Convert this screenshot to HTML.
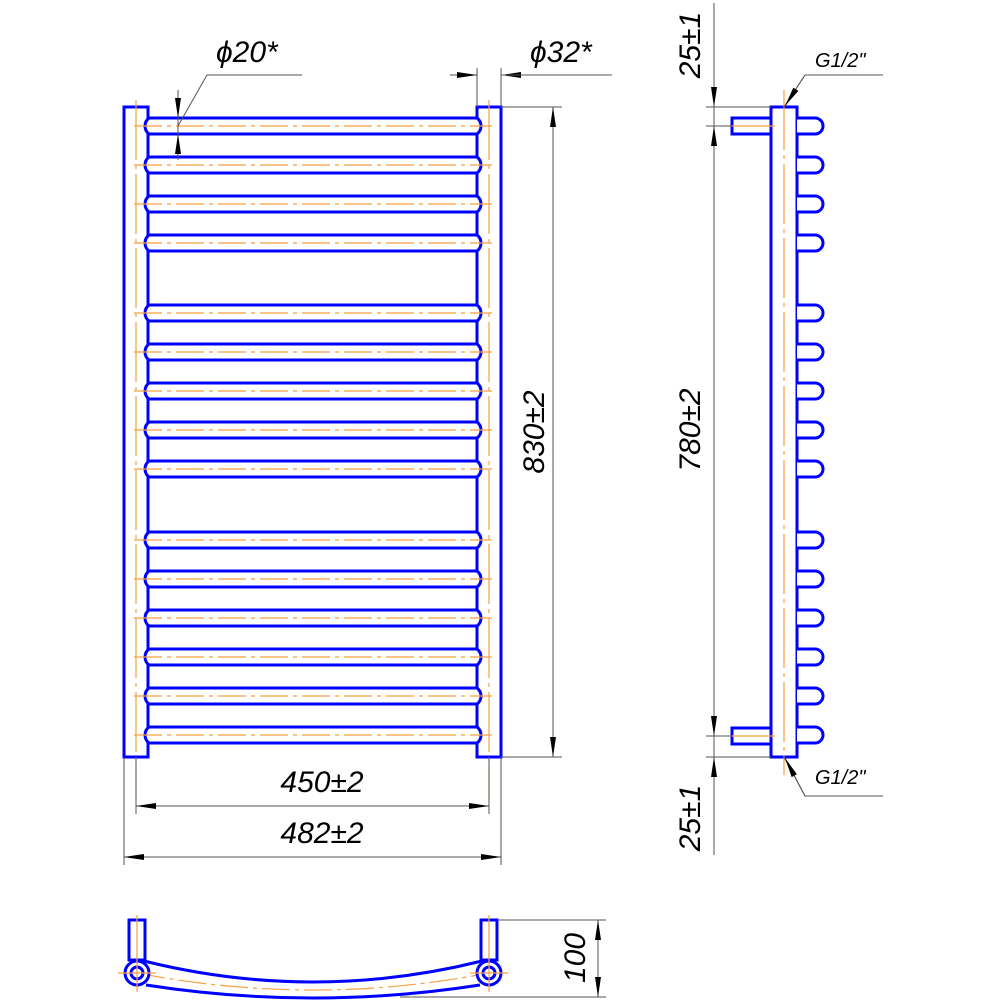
<!DOCTYPE html>
<html><head><meta charset="utf-8"><style>
html,body{margin:0;padding:0;background:#fff}
svg{display:block}
text{font-family:"Liberation Sans",sans-serif;font-style:italic;fill:#000}
</style></head><body>
<svg width="1000" height="1000" viewBox="0 0 1000 1000" xmlns="http://www.w3.org/2000/svg">
<defs>
<marker id="ar" viewBox="0 0 20 6" refX="20" refY="3" markerWidth="20" markerHeight="6" orient="auto-start-reverse" markerUnits="userSpaceOnUse"><path d="M0,0 L20,3 L0,6 Z" fill="#000"/></marker>
<g id="rail">
<path d="M149,-8 H477 A10,10 0 0 1 477,8 H149 A10,10 0 0 1 149,-8 Z" fill="#fff" stroke="#0000ff" stroke-width="3"/>
<line x1="134" y1="0" x2="492" y2="0" stroke="#f7a040" stroke-width="1.2" stroke-dasharray="28,5,4,5"/>
</g>
<g id="pin">
<path d="M797,-8 H815 A8,8 0 0 1 815,8 H797" fill="#fff" stroke="#0000ff" stroke-width="3"/>
</g>
</defs>

<rect x="124" y="107" width="24" height="650" fill="#fff" stroke="#0000ff" stroke-width="3"/>
<rect x="477" y="107" width="24" height="650" fill="#fff" stroke="#0000ff" stroke-width="3"/>
<line x1="136" y1="100" x2="136" y2="800" stroke="#f7a040" stroke-width="1.2" stroke-dasharray="60,5,4,5"/>
<line x1="489" y1="100" x2="489" y2="800" stroke="#f7a040" stroke-width="1.2" stroke-dasharray="60,5,4,5"/>
<g>
<use href="#rail" y="126"/><use href="#rail" y="165"/><use href="#rail" y="204"/><use href="#rail" y="243"/>
<use href="#rail" y="313"/><use href="#rail" y="352"/><use href="#rail" y="391"/><use href="#rail" y="430"/><use href="#rail" y="469"/>
<use href="#rail" y="540"/><use href="#rail" y="579"/><use href="#rail" y="618"/><use href="#rail" y="657"/><use href="#rail" y="696"/><use href="#rail" y="735"/>
</g>

<g stroke="#555" stroke-width="1" fill="none">
<line x1="178" y1="90" x2="178" y2="160" />
<line x1="178" y1="90" x2="178" y2="118" marker-end="url(#ar)"/>
<line x1="178" y1="160" x2="178" y2="134" marker-end="url(#ar)"/>
<polyline points="178,126 207,75 302,75"/>
<line x1="477" y1="68" x2="477" y2="107"/>
<line x1="501" y1="68" x2="501" y2="107"/>
<line x1="450" y1="75" x2="477" y2="75" marker-end="url(#ar)"/>
<line x1="528" y1="75" x2="501" y2="75" marker-end="url(#ar)"/>
<line x1="501" y1="75" x2="612" y2="75"/>
<line x1="501" y1="107" x2="562" y2="107"/>
<line x1="501" y1="757" x2="562" y2="757"/>
<line x1="553" y1="107" x2="553" y2="757" marker-start="url(#ar)" marker-end="url(#ar)"/>
<line x1="136" y1="757" x2="136" y2="814"/>
<line x1="489" y1="757" x2="489" y2="814"/>
<line x1="136" y1="806" x2="489" y2="806" marker-start="url(#ar)" marker-end="url(#ar)"/>
<line x1="124" y1="757" x2="124" y2="865"/>
<line x1="501" y1="757" x2="501" y2="865"/>
<line x1="124" y1="857" x2="501" y2="857" marker-start="url(#ar)" marker-end="url(#ar)"/>
</g>
<text x="216" y="62" font-size="30">ϕ20*</text>
<text x="530" y="62" font-size="30">ϕ32*</text>
<text transform="translate(544,432) rotate(-90)" font-size="30" text-anchor="middle">830±2</text>
<text x="322" y="792" font-size="30" text-anchor="middle">450±2</text>
<text x="322" y="843" font-size="30" text-anchor="middle">482±2</text>

<rect x="732" y="118" width="39" height="16" fill="#fff" stroke="#0000ff" stroke-width="3"/>
<rect x="732" y="728" width="39" height="16" fill="#fff" stroke="#0000ff" stroke-width="3"/>
<rect x="771" y="107" width="26" height="650" fill="#fff" stroke="#0000ff" stroke-width="3"/>
<line x1="784" y1="90" x2="784" y2="775" stroke="#f7a040" stroke-width="1.2" stroke-dasharray="60,5,4,5"/>
<line x1="730" y1="126" x2="775" y2="126" stroke="#f7a040" stroke-width="1.2"/>
<line x1="730" y1="736" x2="775" y2="736" stroke="#f7a040" stroke-width="1.2"/>
<g>
<use href="#pin" y="126"/><use href="#pin" y="165"/><use href="#pin" y="204"/><use href="#pin" y="243"/>
<use href="#pin" y="313"/><use href="#pin" y="352"/><use href="#pin" y="391"/><use href="#pin" y="430"/><use href="#pin" y="469"/>
<use href="#pin" y="540"/><use href="#pin" y="579"/><use href="#pin" y="618"/><use href="#pin" y="657"/><use href="#pin" y="696"/><use href="#pin" y="735"/>
</g>
<g stroke="#555" stroke-width="1" fill="none">
<line x1="714" y1="3" x2="714" y2="855"/>
<line x1="706" y1="107" x2="771" y2="107"/>
<line x1="706" y1="126" x2="732" y2="126"/>
<line x1="706" y1="736" x2="732" y2="736"/>
<line x1="706" y1="757" x2="771" y2="757"/>
<line x1="714" y1="85" x2="714" y2="107" marker-end="url(#ar)"/>
<line x1="714" y1="148" x2="714" y2="126" marker-end="url(#ar)"/>
<line x1="714" y1="714" x2="714" y2="736" marker-end="url(#ar)"/>
<line x1="714" y1="779" x2="714" y2="757" marker-end="url(#ar)"/>
<polyline points="883,75 805,75 784,107"/>
<line x1="805" y1="75" x2="785" y2="106" marker-end="url(#ar)"/>
<polyline points="883,796 805,796 784,757"/>
<line x1="805" y1="796" x2="785" y2="758" marker-end="url(#ar)"/>
</g>
<text x="815" y="67" font-size="20">G1/2"</text>
<text x="815" y="784" font-size="20">G1/2"</text>
<text transform="translate(700,45) rotate(-90)" font-size="30" text-anchor="middle">25±1</text>
<text transform="translate(700,430) rotate(-90)" font-size="30" text-anchor="middle">780±2</text>
<text transform="translate(700,818) rotate(-90)" font-size="30" text-anchor="middle">25±1</text>

<path d="M137,973 Q313,1007 489,973" fill="none" stroke="#f7a040" stroke-width="1.2" stroke-dasharray="28,5,4,5"/>
<path d="M144,961 Q313,1003 482,961" fill="none" stroke="#0000ff" stroke-width="3"/>
<path d="M146,985 Q313,1011 480,985" fill="none" stroke="#0000ff" stroke-width="3"/>
<rect x="129" y="920" width="16" height="40" fill="#fff" stroke="#0000ff" stroke-width="3"/>
<rect x="481" y="920" width="16" height="40" fill="#fff" stroke="#0000ff" stroke-width="3"/>
<circle cx="137" cy="973" r="12" fill="#fff" stroke="#0000ff" stroke-width="3"/>
<circle cx="137" cy="973" r="6" fill="none" stroke="#0000ff" stroke-width="3"/>
<circle cx="489" cy="973" r="12" fill="#fff" stroke="#0000ff" stroke-width="3"/>
<circle cx="489" cy="973" r="6" fill="none" stroke="#0000ff" stroke-width="3"/>
<g stroke="#f7a040" stroke-width="1.2">
<line x1="118" y1="973" x2="156" y2="973"/><line x1="137" y1="915" x2="137" y2="992"/>
<line x1="470" y1="973" x2="508" y2="973"/><line x1="489" y1="915" x2="489" y2="992"/>
</g>
<g stroke="#555" stroke-width="1" fill="none">
<line x1="497" y1="920" x2="606" y2="920"/>
<line x1="400" y1="997" x2="606" y2="997"/>
<line x1="598" y1="920" x2="598" y2="997" marker-start="url(#ar)" marker-end="url(#ar)"/>
</g>
<text transform="translate(585,958) rotate(-90)" font-size="30" text-anchor="middle">100</text>
</svg>
</body></html>
